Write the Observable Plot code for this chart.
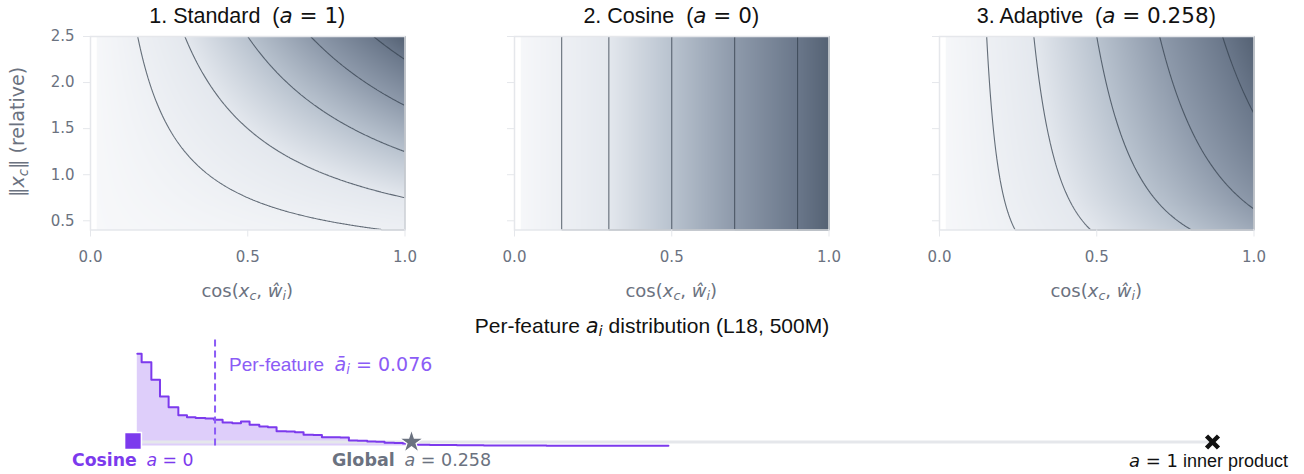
<!DOCTYPE html>
<html><head><meta charset="utf-8">
<script src="https://cdn.jsdelivr.net/npm/d3@7"></script>
<script src="https://cdn.jsdelivr.net/npm/@observablehq/plot@0.6"></script>
<style>
body{margin:0;background:#fff;}
#root{position:relative;width:1304px;height:474px;overflow:hidden;font-family:"Liberation Sans",Arial,sans-serif;}
.abs{position:absolute;white-space:nowrap;line-height:1;}
.m{font-family:"DejaVu Sans";}
.mi{font-family:"DejaVu Sans";font-style:italic;}
sub{font-size:70%;vertical-align:-0.25em;}
.ttl{font-size:21.5px;color:#111;transform:translate(-50%,-50%);}
.xl{font-size:18px;color:#6b7280;transform:translate(-50%,-50%);font-family:"DejaVu Sans";}
.panel{position:absolute;}
</style></head>
<body><div id="root"></div>
<script>
// ---- data ----
const panelTitles = ["1. Standard", "2. Cosine", "3. Adaptive"];
const panelA = [1, 0, 0.258];
const panelALabels = ["1", "0", "0.258"];
const contourLevels = [0.15, 0.3, 0.5, 0.7, 0.9];
const cosDomain = [0, 1];
const normDomain = [0.4, 2.5];
const heatCosStart = 0.02;
const xTicks = [0, 0.5, 1];
const yTicks = [0.5, 1, 1.5, 2, 2.5];
const colorStops = [0, 0.3, 0.5, 0.7, 0.9, 1];
const colorRange = ["#f7f8fa", "#e4e8ee", "#b9c3cf", "#8e9aab", "#6a778a", "#556274"];

const histLeft = [0.004,0.008,0.017,0.025,0.033,0.042,0.050,0.058,0.067,0.075,
  0.083,0.092,0.100,0.108,0.117,0.125,0.133,0.142,0.150,0.158,
  0.167,0.175,0.183,0.192,0.200,0.208,0.217,0.225,0.233,0.242,
  0.250,0.258,0.267,0.275,0.283,0.292,0.300,0.308,0.317,0.325,
  0.333,0.342,0.350,0.358,0.367,0.375,0.383,0.392,0.400,0.408,
  0.417,0.425,0.433,0.442,0.450,0.458,0.467,0.475,0.483,0.492];
const histEnd = 0.496;
const histHeight = [1.000,0.909,0.718,0.537,0.421,0.334,0.312,0.304,0.298,0.284,
  0.255,0.247,0.266,0.230,0.211,0.204,0.161,0.158,0.150,0.121,
  0.119,0.095,0.094,0.092,0.060,0.058,0.049,0.047,0.035,0.033,
  0.028,0.014,0.013,0.012,0.011,0.010,0.008,0.007,0.007,0.006,
  0.006,0.006,0.005,0.005,0.005,0.005,0.004,0.004,0.004,0.004,
  0.004,0.004,0.004,0.003,0.003,0.003,0.003,0.003,0.003,0.003];
const meanA = 0.076;
const globalA = 0.258;
const innerA = 1;
const cosineA = 0;

// ---- layout ----
const root = document.getElementById("root");
function addHTML(html, cls, left, top, extra) {
  const d = document.createElement("div");
  d.className = "abs " + cls;
  d.style.left = left + "px"; d.style.top = top + "px";
  if (extra) Object.assign(d.style, extra);
  d.innerHTML = html;
  root.appendChild(d);
  return d;
}

const frameLefts = [90, 514, 939];
const mL = 60, mR = 20, mT = 36, mB = 40.5;
const fW = 314.5, H = 270;

panelA.forEach((a, k) => {
  const norm = Math.pow(normDomain[1], a);
  const f = (c, n) => c * Math.pow(n, a) / norm;
  const svg = Plot.plot({
    width: mL + fW + mR, height: H,
    marginLeft: mL, marginRight: mR, marginTop: mT, marginBottom: mB,
    style: {background: "transparent", fontFamily: "DejaVu Sans, sans-serif", fontSize: "15px", overflow: "visible"},
    x: {domain: cosDomain},
    y: {domain: normDomain},
    color: {type: "linear", domain: colorStops, range: colorRange, clamp: true},
    marks: [
      Plot.raster({fill: f, x1: heatCosStart, x2: cosDomain[1], y1: normDomain[0], y2: normDomain[1], pixelSize: 1}),
      Plot.contour({value: f, x1: heatCosStart, x2: cosDomain[1], y1: normDomain[0], y2: normDomain[1], pixelSize: 1,
        thresholds: contourLevels, fill: "none", stroke: "#36414f", strokeOpacity: 0.75, strokeWidth: 1.1}),
      Plot.frame({stroke: "#e5e7eb", strokeWidth: 1.5}),
      Plot.axisX({ticks: xTicks, tickFormat: d3.format(".1f"), tickSize: 7, tickPadding: 14, stroke: "#e5e7eb", fill: "#6b7280", label: null, fontSize: 15}),
      Plot.axisY({ticks: yTicks, tickFormat: k === 0 ? d3.format(".1f") : () => "", tickSize: 7, tickPadding: 9, stroke: "#e5e7eb", fill: "#6b7280", label: null, fontSize: 15})
    ]
  });
  const wrap = document.createElement("div");
  wrap.className = "panel";
  wrap.style.left = (frameLefts[k] - mL) + "px";
  wrap.style.top = "0px";
  wrap.appendChild(svg);
  root.appendChild(wrap);
  const cx = frameLefts[k] + fW / 2;
  addHTML(`${panelTitles[k]}&nbsp;&nbsp;(<span class="mi">a</span><span class="m"> = ${panelALabels[k]}</span>)`, "ttl", cx, 16);
  addHTML(`cos(<span class="mi">x</span><sub class="mi">c</sub>, <span class="mi">ŵ</span><sub class="mi">i</sub>)`, "xl", cx, 292);
});

addHTML(`‖<span class="mi">x</span><sub class="mi">c</sub>‖ (relative)`, "xl", 19, 132, {fontSize: "19px", transform: "translate(-50%,-50%) rotate(-90deg)"});

// ---- bottom distribution ----
const histRows = histLeft.map((x, i) => ({x, h: histHeight[i]}));
histRows.push({x: histEnd, h: histHeight[histHeight.length - 1]});
const yMax = 1.166;
const bottom = Plot.plot({
  width: 1304, height: 174,
  marginLeft: 132.5, marginRight: 92, marginTop: 38, marginBottom: 28.5,
  style: {background: "transparent", overflow: "visible"},
  x: {domain: [0, 1], axis: null},
  y: {domain: [0, yMax], axis: null},
  marks: [
    Plot.areaY(histRows, {x: "x", y: "h", curve: "step-after", fill: "#7c3aed", fillOpacity: 0.25}),
    Plot.ruleY([0], {x1: cosineA, x2: innerA, stroke: "#e5e7eb", strokeWidth: 3, dy: -4}),
    Plot.lineY(histRows, {x: "x", y: "h", curve: "step-after", stroke: "#7c3aed", strokeWidth: 2}),
    Plot.ruleX([meanA], {y1: 0, y2: yMax, stroke: "#8b5cf6", strokeWidth: 2, strokeDasharray: "7,4"}),
    Plot.dot([cosineA], {x: d => d, y: 0, dy: -5, symbol: "square", r: 9.5, fill: "#7c3aed", stroke: "white", strokeWidth: 1.5}),
    Plot.dot([globalA], {x: d => d, y: 0, dy: -4, symbol: "star", r: 7.5, fill: "#6b7280", stroke: "white", strokeWidth: 1.2}),
    Plot.dot([innerA], {x: d => d, y: 0, dy: -4, symbol: "times", r: 5.5, stroke: "#111", strokeWidth: 4.5})
  ]
});
const bw = document.createElement("div");
bw.className = "panel"; bw.style.left = "0px"; bw.style.top = "300px";
bw.appendChild(bottom);
root.appendChild(bw);

addHTML(`Per-feature <span class="mi">a</span><sub class="mi">i</sub> distribution (L18, 500M)`, "ttl", 652, 327, {fontSize: "21px"});
addHTML(`Per-feature&nbsp;&nbsp;<span class="mi">ā</span><sub class="mi">i</sub><span class="m"> = ${meanA}</span>`, "", 229, 355, {fontSize: "19px", color: "#8b5cf6"});
addHTML(`<span class="m" style="font-weight:bold">Cosine</span>&nbsp;&nbsp;<span class="mi">a</span><span class="m"> = ${cosineA}</span>`, "", 72, 452, {fontSize: "17.3px", color: "#7c3aed"});
addHTML(`<span class="m" style="font-weight:bold">Global</span>&nbsp;&nbsp;<span class="mi">a</span><span class="m"> = ${globalA}</span>`, "", 332, 452, {fontSize: "17.5px", color: "#6b7280"});
addHTML(`<span class="mi">a</span><span class="m"> = ${innerA}</span> inner product`, "", 1288, 452, {fontSize: "18px", color: "#111", transform: "translateX(-100%)"});
</script>
</body></html>
